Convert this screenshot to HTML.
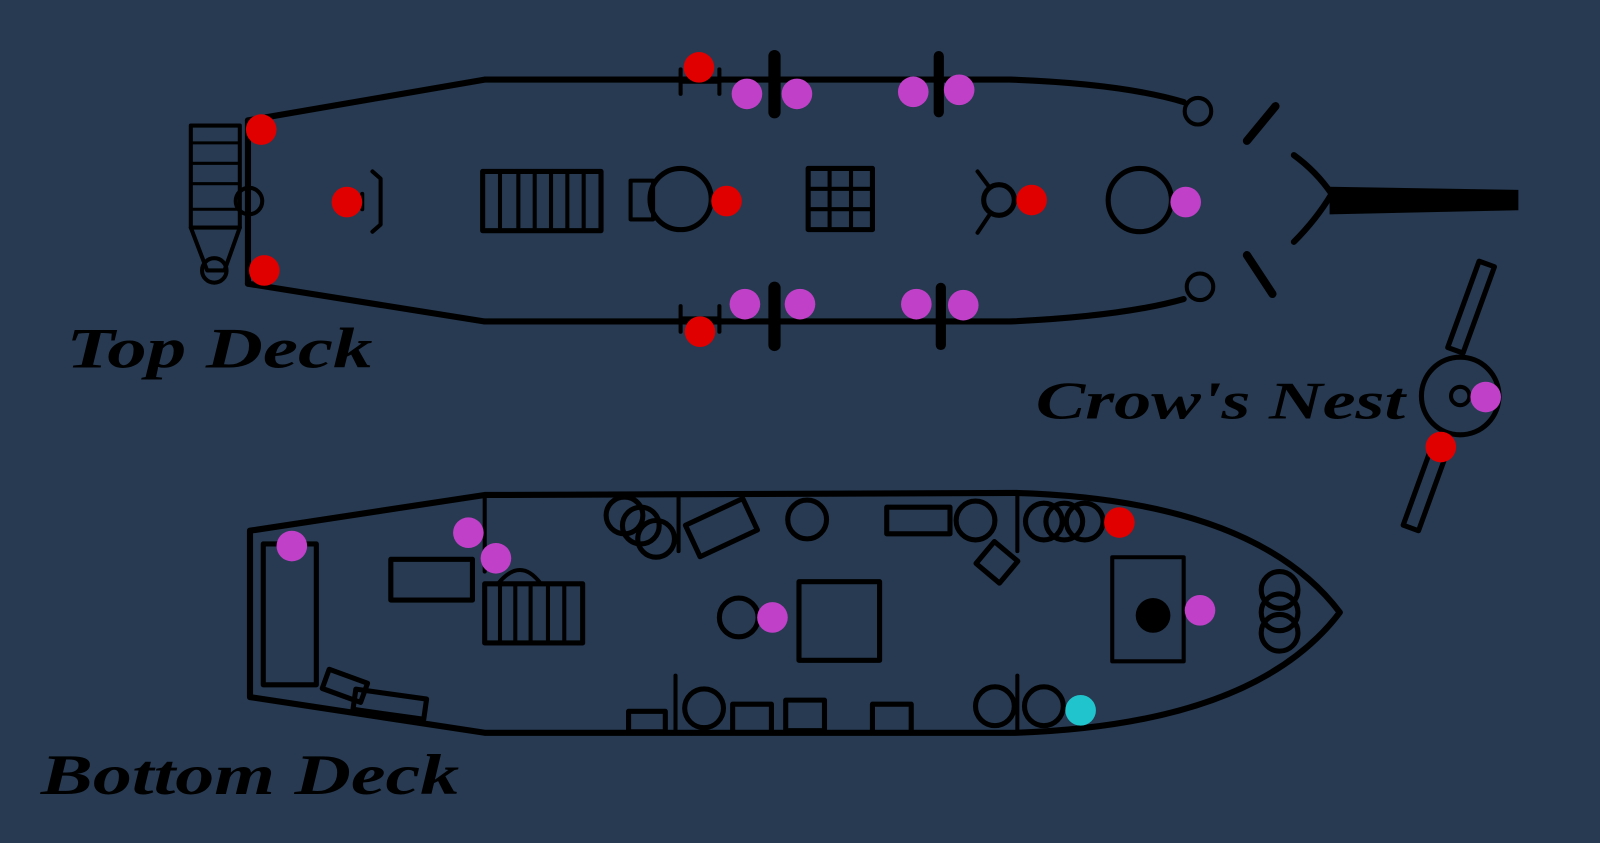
<!DOCTYPE html>
<html><head><style>html,body{margin:0;padding:0;background:#273a52;}svg{display:block}</style></head>
<body>
<svg width="1600" height="843" viewBox="0 0 1568 826" preserveAspectRatio="none" xmlns="http://www.w3.org/2000/svg">
<rect width="1568" height="826" fill="#273a52"/>
<g fill="none" stroke="#000" stroke-width="6" stroke-linecap="round" stroke-linejoin="round">
<path d="M243,118 L475,78 L990,78 Q1100,82 1160,100"/>
<path d="M243,278 L475,315 L990,315 Q1100,310 1160,293"/>
<path d="M243,118 L243,278"/>
<circle cx="1174" cy="109" r="13" stroke-width="4"/>
<circle cx="1176" cy="281" r="13" stroke-width="4"/>
<circle cx="244" cy="197" r="13" stroke-width="4"/>
<rect x="187" y="123" width="48" height="100" stroke-width="4"/>
<path d="M187,223 L203,265 L220,265 L235,223" stroke-width="4"/>
<line x1="187" y1="140" x2="235" y2="140" stroke-width="3"/>
<line x1="187" y1="160" x2="235" y2="160" stroke-width="3"/>
<line x1="187" y1="180" x2="235" y2="180" stroke-width="3"/>
<line x1="187" y1="205" x2="235" y2="205" stroke-width="3"/>
<path d="M365,168 L373,175 L373,220 L365,227" stroke-width="4"/>
<line x1="355" y1="190" x2="355" y2="205" stroke-width="4"/>
<rect x="473" y="168" width="116" height="58" stroke-width="5"/>
<path d="M490,168V226M508,168V226M524,168V226M540,168V226M556,168V226M572,168V226" stroke-width="4"/>
<circle cx="667" cy="195" r="30" stroke-width="5"/>
<rect x="618" y="177" width="22" height="38" stroke-width="4"/>
<rect x="792" y="165" width="63" height="60" stroke-width="5"/>
<path d="M813,165V225M834,165V225M792,185H855M792,205H855" stroke-width="4"/>
<circle cx="979" cy="196" r="15" stroke-width="5"/>
<line x1="958" y1="168" x2="970" y2="184" stroke-width="4"/>
<line x1="958" y1="228" x2="970" y2="210" stroke-width="4"/>
<circle cx="1117" cy="196" r="31" stroke-width="5"/>
<path d="M1268,152 Q1290,168 1305,190 Q1290,215 1268,237" stroke-width="6"/>
<path d="M1222,138 L1250,104" stroke-width="8"/>
<path d="M1222,250 L1247,288" stroke-width="8"/>
<path d="M667,68V92M667,80H705M705,68V92" stroke-width="4"/>
<path d="M667,300V325M667,312H705M705,300V325" stroke-width="4"/>
<line x1="759" y1="55" x2="759" y2="110" stroke-width="12"/>
<line x1="920" y1="55" x2="920" y2="110" stroke-width="10"/>
<line x1="759" y1="282" x2="759" y2="338" stroke-width="12"/>
<line x1="922" y1="282" x2="922" y2="338" stroke-width="10"/>
<circle cx="1431" cy="388" r="38" stroke-width="5"/>
<rect x="1434" y="256" width="16" height="90" transform="rotate(20 1442 300)" stroke-width="5"/>
<rect x="1390" y="430" width="16" height="90" transform="rotate(20 1398 475)" stroke-width="5"/>
<path d="M245,520 L475,485 L995,483 Q1230,490 1313,600 Q1230,710 995,718 L475,718 L245,683 Z"/>
<line x1="475" y1="485" x2="475" y2="560" stroke-width="4"/>
<line x1="997" y1="483" x2="997" y2="540" stroke-width="4"/>
<rect x="258" y="533" width="52" height="138" stroke-width="5"/>
<rect x="383" y="548" width="80" height="40" stroke-width="5"/>
<rect x="475" y="572" width="96" height="58" stroke-width="5"/>
<path d="M490,572V630M505,572V630M520,572V630M537,572V630M553,572V630" stroke-width="4"/>
<path d="M488,572 Q510,545 530,572" stroke-width="4"/>
<circle cx="612" cy="505" r="18" stroke-width="5"/>
<circle cx="628" cy="515" r="18" stroke-width="5"/>
<circle cx="643" cy="528" r="18" stroke-width="5"/>
<line x1="665" y1="487" x2="665" y2="540" stroke-width="4"/>
<rect x="676" y="500" width="62" height="34" transform="rotate(-25 707 517)" stroke-width="5"/>
<circle cx="791" cy="509" r="19" stroke-width="5"/>
<rect x="869" y="497" width="62" height="26" stroke-width="5"/>
<circle cx="956" cy="510" r="19" stroke-width="5"/>
<rect x="962" y="537" width="30" height="28" transform="rotate(40 977 551)" stroke-width="5"/>
<circle cx="1023" cy="511" r="18" stroke-width="5"/>
<circle cx="1043" cy="511" r="18" stroke-width="5"/>
<circle cx="1063" cy="511" r="18" stroke-width="5"/>
<circle cx="724" cy="605" r="19" stroke-width="5"/>
<rect x="783" y="570" width="79" height="77" stroke-width="5"/>
<rect x="1090" y="546" width="70" height="102" stroke-width="4"/>
<circle cx="1254" cy="578" r="18" stroke-width="5"/>
<circle cx="1254" cy="600" r="18" stroke-width="5"/>
<circle cx="1254" cy="620" r="18" stroke-width="5"/>
<rect x="318" y="662" width="40" height="20" transform="rotate(20 338 672)" stroke-width="5"/>
<rect x="347" y="680" width="70" height="20" transform="rotate(8 382 690)" stroke-width="5"/>
<rect x="616" y="697" width="36" height="20" stroke-width="5"/>
<line x1="662" y1="662" x2="662" y2="715" stroke-width="4"/>
<circle cx="690" cy="694" r="19" stroke-width="5"/>
<rect x="718" y="690" width="38" height="28" stroke-width="5"/>
<rect x="770" y="686" width="38" height="30" stroke-width="5"/>
<rect x="855" y="690" width="38" height="28" stroke-width="5"/>
<circle cx="975" cy="692" r="19" stroke-width="5"/>
<circle cx="1023" cy="692" r="19" stroke-width="5"/>
<line x1="997" y1="662" x2="997" y2="718" stroke-width="4"/>
</g>
<g fill="#000">
<path d="M1303,183 L1488,186 L1488,206 L1303,210 Z"/>
<circle cx="1130" cy="603" r="17"/>
<circle cx="1431" cy="388" r="9" fill="none" stroke="#000" stroke-width="4"/>
<circle cx="210" cy="265" r="12" fill="none" stroke="#000" stroke-width="4"/>
</g>
<g font-family="'Liberation Serif',serif" font-style="italic" font-weight="bold" fill="#000">
<text x="65" y="360" font-size="56" textLength="300" lengthAdjust="spacingAndGlyphs">Top Deck</text>
<text x="1015" y="410" font-size="52" textLength="362" lengthAdjust="spacingAndGlyphs">Crow's Nest</text>
<text x="40" y="778" font-size="56" textLength="410" lengthAdjust="spacingAndGlyphs">Bottom Deck</text>
</g>
<g fill="#e00000">
<circle cx="685" cy="66" r="15"/><circle cx="256" cy="127" r="15"/><circle cx="340" cy="198" r="15"/>
<circle cx="259" cy="265" r="15"/><circle cx="712" cy="197" r="15"/><circle cx="1011" cy="196" r="15"/>
<circle cx="686" cy="325" r="15"/><circle cx="1412" cy="438" r="15"/><circle cx="1097" cy="512" r="15"/>
</g>
<g fill="#c040c8">
<circle cx="732" cy="92" r="15"/><circle cx="781" cy="92" r="15"/><circle cx="895" cy="90" r="15"/><circle cx="940" cy="88" r="15"/>
<circle cx="730" cy="298" r="15"/><circle cx="784" cy="298" r="15"/><circle cx="898" cy="298" r="15"/><circle cx="944" cy="299" r="15"/>
<circle cx="1162" cy="198" r="15"/><circle cx="1456" cy="389" r="15"/>
<circle cx="286" cy="535" r="15"/><circle cx="459" cy="522" r="15"/><circle cx="486" cy="547" r="15"/>
<circle cx="757" cy="605" r="15"/><circle cx="1176" cy="598" r="15"/>
</g>
<circle cx="1059" cy="696" r="15" fill="#20c4cc"/>
</svg>
</body></html>
